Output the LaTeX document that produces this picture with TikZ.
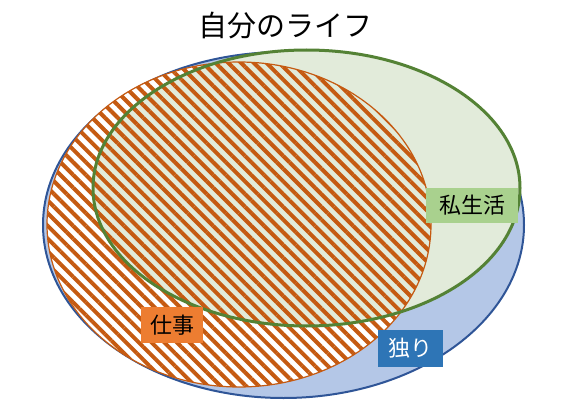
\documentclass[tikz,border=0pt]{standalone}
\usepackage{fontspec}
\setmainfont{Noto Sans CJK JP}
\usepackage{tikz}
\usetikzlibrary{shapes.geometric,patterns.meta}

\definecolor{hitoriline}{RGB}{47,85,151}
\definecolor{hitorifill}{RGB}{180,199,231}
\definecolor{shigotoline}{RGB}{197,90,17}
\definecolor{shigotobox}{RGB}{237,125,49}
\definecolor{shiseiline}{RGB}{84,130,53}
\definecolor{shiseifill}{RGB}{226,235,218}
\definecolor{shiseibox}{RGB}{169,209,142}
\definecolor{hitoribox}{RGB}{46,117,182}

\begin{document}
\begin{tikzpicture}[
    x = 1pt, y = -1pt, % one pixel of the picture
    inner sep = 0pt,
    labelbox/.style = {rectangle, font=\fontsize{22}{26}\selectfont}, % text boxes
    shigotoset/.style = {ellipse, minimum width=384pt, minimum height=325pt},
    shiseiset/.style = {ellipse, minimum width=427pt, minimum height=276pt}
    ]

    \useasboundingbox (0,0) rectangle (568,420);

    \node[ellipse, draw=hitoriline, line width=2pt, fill=hitorifill,
          minimum width=481pt, minimum height=346pt] (hitori) at (283.5,225) {};
    \node[shigotoset, fill=white] (shigoto) at (239,224.5) {};
    \node[shiseiset, fill=shiseifill] (shisei) at (306.5,188) {};
    % hatching over both
    \node[shigotoset, draw=shigotoline, line width=1.2pt,
          pattern={Lines[angle=-45,distance=9pt,line width=4pt]},
          pattern color=shigotoline] (shigotohatch) at (shigoto.center) {};
    \node[shiseiset, draw=shiseiline, line width=3pt] (shiseiborder) at (shisei.center) {};

    \node[labelbox, fill=shiseibox, minimum width=92pt, minimum height=35pt]
        (shiseilabel) at (472,205.5) {私生活};
    \node[labelbox, fill=shigotobox, minimum width=62pt, minimum height=36pt]
        (shigotolabel) at (172,325) {仕事};
    \node[labelbox, fill=hitoribox, text=white, minimum width=65pt, minimum height=37pt]
        (hitorilabel) at (410.5,348.5) {独り};

    \node[rectangle, font=\fontsize{29}{34}\selectfont] (title) at (285,25.5) {自分のライフ};
\end{tikzpicture}
\end{document}
